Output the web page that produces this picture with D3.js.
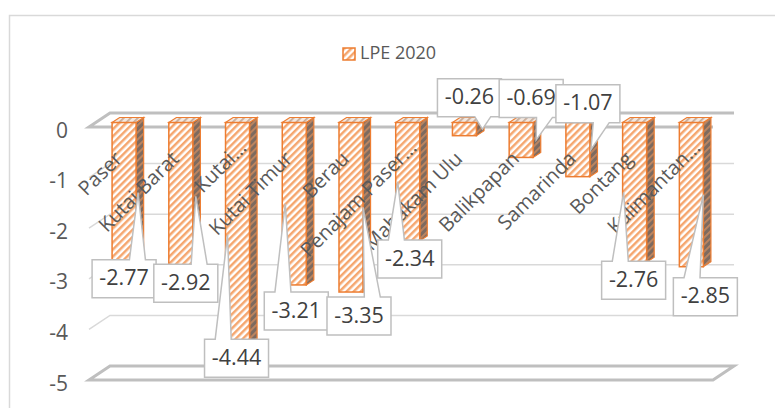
<!DOCTYPE html>
<html>
<head>
<meta charset="utf-8">
<script src="https://cdn.jsdelivr.net/npm/d3@7"></script>
<style>
  html, body { margin: 0; padding: 0; background: #fff; }
  text { font-family: "Open Sans", sans-serif; }
</style>
</head>
<body>
<div id="chart"></div>
<script>
// data
const categories = ["Paser", "Kutai Barat", "Kutai Kartanegara", "Kutai Timur", "Berau",
  "Penajam Paser Utara", "Mahakam Ulu", "Balikpapan", "Samarinda", "Bontang", "Kalimantan Timur"];
const shownLabels = ["Paser", "Kutai Barat", "Kutai...", "Kutai Timur", "Berau",
  "Penajam Paser...", "Mahakam Ulu", "Balikpapan", "Samarinda", "Bontang", "Kalimantan..."];
const values = [-2.77, -2.92, -4.44, -3.21, -3.35, -2.34, -0.26, -0.69, -1.07, -2.76, -2.85];
const yTicks = [0, -1, -2, -3, -4, -5];
const seriesName = "LPE 2020";

// callout layout (box centre offset from bar, box top offset from bar bottom, tip offset)
const boxDx = [0, 5, -1, 2, 8, 2, 5, 10, 10, -1, 14];
const boxDy = [-3, -6, -8, 7, 5, -1, -57, -78, -92, -1, 11];
const tipDx = [14, 15, -10, -9, 12, -10, 18, 15, 13, -11, 12];

const width = 775, height = 408;
const svg = d3.select("#chart").append("svg")
  .attr("width", width)
  .attr("height", height);

// patterns for the hatched bars
const defs = svg.append("defs");
function hatch(id, bg, fg, w) {
  const p = defs.append("pattern")
    .attr("id", id)
    .attr("width", 5).attr("height", 5)
    .attr("patternUnits", "userSpaceOnUse")
    .attr("patternTransform", "rotate(45)");
  p.append("rect").attr("width", 5).attr("height", 5).attr("fill", bg);
  p.append("rect").attr("width", w).attr("height", 5).attr("fill", fg);
}
hatch("hFront", "#ffffff", "#F5A66E", 2.5);
hatch("hSide", "#7d6a5f", "#c08660", 1.8);
hatch("hTop", "#f3e8e0", "#c8ab98", 1.8);

// chart border
svg.append("rect")
  .attr("x", 9.5).attr("y", 15.5)
  .attr("width", 790).attr("height", 420)
  .attr("fill", "none")
  .attr("stroke", "#d9d9d9")
  .attr("stroke-width", 1.5);

// scales on the front plane, plus a depth vector for the 3d look
const x = d3.scaleBand().domain(categories).range([89, 713]);
const y = d3.scaleLinear().domain([-5, 0]).range([380, 127]);
const D = [21, -14];
const t0 = 0.32, t1 = 0.68;
const barW = 24;
const dd = [D[0] * (t1 - t0), D[1] * (t1 - t0)];

// gridlines on the back and side walls
const grid = svg.append("g");
yTicks.filter(v => v !== 0 && v !== -5).forEach(v => {
  grid.append("path")
    .attr("d", `M${x.range()[0]},${y(v)} L${x.range()[0] + D[0]},${y(v) + D[1]} L${x.range()[1] + D[0]},${y(v) + D[1]}`)
    .attr("fill", "none")
    .attr("stroke", "#d9d9d9")
    .attr("stroke-width", 1.5);
});

// floor at -5
const fl = x.range()[0], fr = x.range()[1];
grid.append("path")
  .attr("d", `M${fl},${y(-5)} L${fr},${y(-5)} L${fr + D[0]},${y(-5) + D[1]} L${fl + D[0]},${y(-5) + D[1]} Z`)
  .attr("fill", "none")
  .attr("stroke", "#bfbfbf")
  .attr("stroke-width", 3);

// axis plane at 0
grid.append("path")
  .attr("d", `M${fr},${y(0)} L${fl},${y(0)} L${fl + D[0]},${y(0) + D[1]} L${fr + D[0]},${y(0) + D[1]}`)
  .attr("fill", "none")
  .attr("stroke", "#bfbfbf")
  .attr("stroke-width", 3);

// y tick labels
svg.append("g")
  .selectAll("text")
  .data(yTicks)
  .join("text")
  .attr("x", 68)
  .attr("y", d => y(d) + 5)
  .attr("text-anchor", "end")
  .attr("dominant-baseline", "middle")
  .attr("font-size", 21)
  .attr("fill", "#595959")
  .text(d => d);

// bars
const bx = i => x(categories[i]) + (x.bandwidth() - barW) / 2 + D[0] * t0;
const by = v => y(v) + D[1] * t0;
const bars = svg.append("g")
  .selectAll("g")
  .data(values)
  .join("g");

bars.append("path")
  .attr("d", (d, i) => {
    const x0 = bx(i) + barW, yt = by(0), yb = by(d);
    return `M${x0},${yt} L${x0 + dd[0]},${yt + dd[1]} L${x0 + dd[0]},${yb + dd[1]} L${x0},${yb} Z`;
  })
  .attr("fill", "url(#hSide)")
  .attr("stroke", "#ED7D31")
  .attr("stroke-width", 1.2);

bars.append("path")
  .attr("d", (d, i) => {
    const x0 = bx(i), yt = by(0);
    return `M${x0},${yt} L${x0 + dd[0]},${yt + dd[1]} L${x0 + barW + dd[0]},${yt + dd[1]} L${x0 + barW},${yt} Z`;
  })
  .attr("fill", "url(#hTop)")
  .attr("stroke", "#ED7D31")
  .attr("stroke-width", 1.2);

bars.append("rect")
  .attr("x", (d, i) => bx(i))
  .attr("y", by(0))
  .attr("width", barW)
  .attr("height", d => by(d) - by(0))
  .attr("fill", "url(#hFront)")
  .attr("stroke", "#ED7D31")
  .attr("stroke-width", 1.5);

// category labels, rotated
svg.append("g")
  .selectAll("text")
  .data(shownLabels)
  .join("text")
  .attr("transform", (d, i) => {
    const extra = d.endsWith("...") ? 11 : 0;
    const ax = x(categories[i]) + x.bandwidth() / 2 + 6 + extra;
    const ay = 160 - extra;
    return `translate(${ax},${ay}) rotate(-45)`;
  })
  .attr("text-anchor", "end")
  .attr("font-size", 20)
  .attr("fill", "#595959")
  .text(d => d);

// callout data labels
function calloutPath(x0, y0, w, h, tx, ty) {
  const hc = x0 + w / 2, vc = y0 + h / 2;
  const dx = tx - hc, dy = ty - vc;
  const dq = dx * h / w;
  if (Math.abs(dy) > Math.abs(dq)) {
    const x1 = x0 + w * (dx > 0 ? 7 : 2) / 12, x2 = x0 + w * (dx > 0 ? 10 : 5) / 12;
    if (dy < 0) {
      return `M${x0},${y0} L${x1},${y0} L${tx},${ty} L${x2},${y0} L${x0 + w},${y0} L${x0 + w},${y0 + h} L${x0},${y0 + h} Z`;
    }
    return `M${x0},${y0} L${x0 + w},${y0} L${x0 + w},${y0 + h} L${x2},${y0 + h} L${tx},${ty} L${x1},${y0 + h} L${x0},${y0 + h} Z`;
  }
  const y1 = y0 + h * (dy > 0 ? 7 : 2) / 12, y2 = y0 + h * (dy > 0 ? 10 : 5) / 12;
  if (dx < 0) {
    return `M${x0},${y0} L${x0 + w},${y0} L${x0 + w},${y0 + h} L${x0},${y0 + h} L${x0},${y2} L${tx},${ty} L${x0},${y1} Z`;
  }
  return `M${x0},${y0} L${x0 + w},${y0} L${x0 + w},${y1} L${tx},${ty} L${x0 + w},${y2} L${x0 + w},${y0 + h} L${x0},${y0 + h} Z`;
}

const boxW = 64, boxH = 38;
const callouts = svg.append("g")
  .selectAll("g")
  .data(values)
  .join("g");

callouts.append("path")
  .attr("d", (d, i) => {
    const cx = bx(i) + barW / 2;
    const x0 = cx + boxDx[i] - boxW / 2;
    const y0 = by(d) + boxDy[i];
    return calloutPath(x0, y0, boxW, boxH, cx + tipDx[i], by(d / 2));
  })
  .attr("fill", "#fff")
  .attr("stroke", "#bfbfbf")
  .attr("stroke-width", 1.5);

callouts.append("text")
  .attr("x", (d, i) => bx(i) + barW / 2 + boxDx[i])
  .attr("y", (d, i) => by(d) + boxDy[i] + boxH / 2 + 1)
  .attr("text-anchor", "middle")
  .attr("dominant-baseline", "middle")
  .attr("font-size", 21.5)
  .attr("fill", "#404040")
  .text(d => d.toFixed(2));

// legend
const legend = svg.append("g").attr("transform", "translate(343,48)");
legend.append("rect")
  .attr("width", 12).attr("height", 12)
  .attr("fill", "url(#hFront)")
  .attr("stroke", "#ED7D31")
  .attr("stroke-width", 1.5);
legend.append("text")
  .attr("x", 17)
  .attr("y", 6)
  .attr("dominant-baseline", "middle")
  .attr("font-size", 18)
  .attr("fill", "#595959")
  .text(seriesName);
</script>
</body>
</html>
